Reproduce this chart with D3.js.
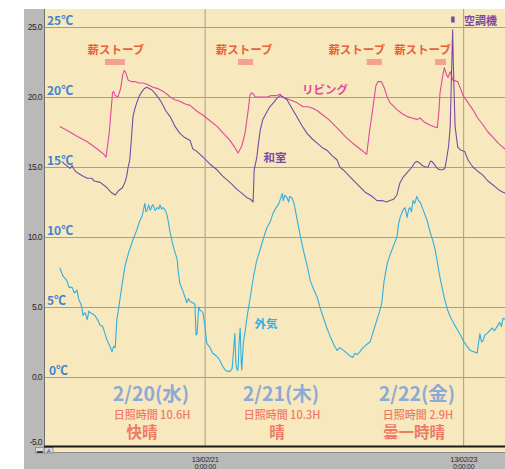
<!DOCTYPE html>
<html>
<head>
<meta charset="utf-8">
<script src="https://cdn.jsdelivr.net/npm/d3@7"></script>
<style>
  body { margin: 0; background: #fff; }
  svg { display: block; }
</style>
</head>
<body>
<svg id="chart" width="505" height="469"></svg>
<script>
// Room and outdoor temperatures, 2013-02-20 .. 2013-02-23.
// Each point is [hours since 2013-02-20 00:00, °C].
const livingData = [
  [-2.9,17.9],[-1.5,17.6],[0.3,17.2],[2.2,16.8],[4.0,16.3],[5.3,15.9],[5.7,15.7],[6.3,17.5],[6.9,20.3],
  [7.1,20.4],[7.4,20.1],[7.9,20.0],[8.4,20.6],[8.8,21.6],[9.1,21.9],[9.4,21.7],[9.8,21.2],[10.4,21.1],
  [11.0,21.1],[11.8,21.0],[12.6,21.0],[13.4,20.9],[14.4,20.7],[15.3,20.6],[16.3,20.4],[17.0,20.2],
  [17.6,20.0],[18.5,19.8],[19.4,19.7],[20.4,19.5],[21.3,19.4],[22.5,19.0],[23.7,18.7],[25.0,18.3],
  [26.3,17.9],[27.5,17.4],[28.7,16.9],[29.6,16.4],[30.2,16.0],[30.9,16.5],[31.5,17.4],[32.1,19.1],
  [32.4,20.1],[32.7,20.3],[33.1,20.2],[33.4,20.0],[34.5,20.0],[35.6,20.0],[36.4,20.1],[37.4,20.1],
  [38.0,20.2],[38.4,20.0],[39.2,19.9],[39.8,19.8],[40.5,19.7],[41.1,19.6],[42.3,19.3],[43.2,19.3],
  [44.1,19.2],[45.0,19.0],[46.0,18.7],[47.0,18.4],[47.8,18.1],[49.1,17.6],[50.3,17.1],[51.5,16.7],
  [52.8,16.3],[54.1,15.9],[54.6,17.5],[55.2,19.1],[55.8,20.8],[56.2,21.1],[56.8,21.1],[57.4,20.6],
  [58.0,19.9],[58.4,19.6],[59.7,19.1],[60.7,18.8],[61.6,18.6],[62.5,18.5],[63.4,18.4],[64.0,18.5],
  [64.8,18.2],[65.8,18.0],[66.5,17.9],[67.2,17.8],[67.5,19.0],[67.7,20.3],[68.2,21.5],[68.5,22.1],
  [68.9,21.6],[69.2,21.4],[69.6,21.8],[70.1,21.2],[71.0,21.1],[71.5,20.6],[72.0,20.1],[72.9,19.6],
  [73.8,19.1],[74.7,18.5],[75.7,18.0],[76.6,17.5],[77.6,17.1],[78.5,16.7],[79.4,16.4],[80.0,16.2]
];

const washitsuData = [
  [-2.5,15.4],[-2.0,15.2],[-1.6,15.1],[-1.0,14.9],[-0.6,15.1],[-0.2,14.8],[0.3,14.6],[1.2,14.4],
  [2.2,14.2],[3.0,14.2],[3.5,14.0],[4.6,13.9],[5.3,13.7],[5.9,13.5],[6.6,13.2],[7.4,13.0],[8.0,13.3],
  [8.7,13.5],[9.2,13.9],[9.5,14.3],[9.8,15.0],[10.1,15.5],[10.4,17.0],[10.7,18.6],[11.0,19.1],
  [11.4,19.6],[11.9,20.1],[12.4,20.4],[12.8,20.6],[13.3,20.7],[13.7,20.6],[14.2,20.5],[14.9,20.2],
  [15.7,19.8],[16.3,19.4],[16.8,19.0],[17.6,18.6],[18.5,17.9],[19.4,17.4],[20.3,17.1],[21.3,16.9],
  [21.8,16.3],[22.6,16.1],[23.7,15.7],[25.0,15.2],[26.3,14.8],[27.2,14.4],[28.1,14.1],[29.0,13.8],
  [30.0,13.4],[31.0,13.1],[31.9,12.8],[32.5,12.7],[33.0,12.5],[33.2,14.8],[33.7,15.7],[33.9,16.4],
  [34.3,17.6],[34.8,18.4],[35.5,18.9],[36.1,19.3],[36.8,19.6],[37.4,19.9],[38.0,20.1],[38.6,20.0],
  [39.3,19.8],[40.2,19.2],[41.1,18.6],[42.0,18.0],[43.0,17.4],[44.0,17.0],[44.9,16.7],[45.8,16.4],
  [46.7,16.2],[47.7,15.8],[48.6,15.5],[49.1,15.0],[50.0,14.7],[51.0,14.3],[52.0,13.9],[52.8,13.6],
  [53.8,13.2],[54.7,13.0],[55.4,12.8],[56.0,12.6],[57.0,12.6],[57.7,12.5],[58.4,12.6],[59.1,12.7],
  [59.7,13.0],[60.0,13.5],[60.3,13.9],[60.9,14.3],[61.6,14.6],[62.5,15.0],[63.0,15.3],[63.4,15.4],
  [63.9,15.3],[64.4,15.1],[65.0,15.0],[65.5,15.0],[65.9,15.4],[66.2,15.4],[66.6,15.2],[67.2,14.9],
  [67.7,14.8],[68.1,14.8],[68.6,14.9],[68.9,15.5],[69.3,16.5],[69.6,17.9],[69.9,22.6],[70.05,24.8],
  [70.2,22.0],[70.5,17.9],[71.0,16.4],[71.6,16.2],[72.3,16.1],[72.9,15.5],[73.8,15.0],[74.7,14.7],
  [75.7,14.4],[76.6,14.0],[77.6,13.7],[78.5,13.4],[79.4,13.2],[80.0,13.1]
];

const outdoorData = [
  [-2.9,7.8],[-2.3,7.2],[-1.6,6.9],[-1.2,6.4],[-0.6,6.4],[-0.2,6.0],[0.3,6.2],[0.6,5.6],[0.9,5.3],
  [1.2,5.0],[1.4,4.4],[1.8,4.6],[2.2,4.1],[2.5,4.7],[2.7,4.6],[3.2,4.5],[3.6,4.4],[4.1,4.1],[4.6,3.7],
  [5.1,3.6],[5.5,3.1],[5.9,2.6],[6.3,2.3],[6.8,1.8],[7.1,2.2],[7.4,2.1],[7.7,4.1],[8.1,5.1],[8.6,6.4],
  [9.2,7.9],[9.9,8.9],[10.7,9.8],[11.3,10.4],[12.0,11.2],[12.4,11.5],[12.9,12.4],[13.1,11.8],
  [13.3,11.9],[13.6,12.3],[13.9,11.9],[14.2,12.2],[14.4,12.3],[14.8,11.9],[15.2,12.1],[15.5,12.0],
  [15.7,12.3],[16.0,12.0],[16.3,12.1],[16.7,11.9],[17.0,11.6],[17.3,11.0],[17.6,10.3],[18.2,9.3],
  [18.9,8.4],[19.1,7.5],[19.4,6.7],[20.0,6.1],[20.7,5.3],[21.0,5.6],[21.3,5.4],[21.8,5.3],[22.2,5.2],
  [22.4,3.0],[22.6,3.1],[22.9,5.0],[23.1,4.8],[23.7,4.6],[24.0,3.8],[24.4,2.4],[25.0,2.1],[25.5,1.7],
  [26.2,1.5],[26.8,1.2],[27.3,0.8],[27.8,0.5],[28.3,0.4],[28.7,0.4],[29.1,0.6],[29.4,2.0],[29.6,3.1],
  [29.8,1.0],[30.0,0.5],[30.2,0.5],[30.4,2.5],[30.6,3.5],[30.8,1.0],[30.9,0.5],[31.2,2.5],[31.5,3.2],
  [32.0,4.6],[32.4,5.5],[33.0,7.0],[33.6,8.2],[34.3,9.1],[35.0,10.0],[35.6,10.7],[36.2,11.1],
  [36.7,11.7],[37.3,12.1],[37.8,12.4],[38.4,13.1],[38.6,12.6],[38.9,13.0],[39.3,12.8],[39.6,12.5],
  [39.8,12.9],[40.2,12.8],[40.6,12.4],[41.1,11.4],[41.7,10.2],[42.3,9.1],[43.0,8.0],[43.6,6.9],
  [44.2,6.3],[44.9,5.7],[45.4,5.0],[46.0,4.3],[46.7,3.5],[47.3,2.9],[48.0,2.3],[48.6,1.9],[49.1,2.1],
  [49.8,1.9],[50.4,1.7],[51.0,1.5],[51.5,1.4],[51.9,1.7],[52.3,1.6],[52.8,1.8],[53.4,2.1],[54.0,2.3],
  [54.7,2.5],[55.2,3.1],[55.6,3.6],[56.0,4.1],[56.5,4.7],[56.9,5.3],[57.3,6.8],[57.9,8.1],[58.4,8.7],
  [59.0,9.3],[59.3,9.6],[59.7,10.0],[60.0,10.9],[60.3,11.4],[60.8,11.9],[61.2,12.1],[61.6,11.4],
  [61.9,12.0],[62.1,12.1],[62.4,11.8],[62.7,12.6],[63.0,12.4],[63.4,12.9],[63.7,12.6],[64.0,12.5],
  [64.6,11.9],[65.3,11.2],[65.9,10.3],[66.4,9.7],[66.8,9.1],[67.3,8.0],[67.7,7.1],[68.2,6.2],
  [68.6,5.5],[69.1,4.8],[69.6,4.3],[70.3,3.8],[70.9,3.4],[71.5,3.0],[72.0,2.6],[72.7,2.2],[73.3,1.9],
  [74.0,1.8],[74.6,1.7],[75.1,3.1],[75.4,2.5],[75.7,2.6],[76.0,3.0],[76.4,3.1],[76.9,3.3],[77.4,3.5],
  [77.8,3.3],[78.3,3.6],[78.8,3.9],[79.1,3.6],[79.4,4.2],[80.0,4.1]
];

// Wood-stove firing periods [start, end] in hours, and the air-conditioner switch-on hour.
const stoveRuns = [[5.5, 9.2], [30.2, 33.0], [54.1, 56.9], [66.8, 68.8]];
const stoveLabel = "薪ストーブ";
const airconOn = 70.05;
const airconLabel = "空調機";

// Axis ticks
const yTicks = [-5, 0, 5, 10, 15, 20, 25];
const xTicks = ["2013-02-21T00:00:00Z", "2013-02-23T00:00:00Z"];

// Daily notes
const dayNames = ["2/20(水)", "2/21(木)", "2/22(金)"];
const sunshineHours = [10.6, 10.3, 2.9];
const weatherNotes = ["快晴", "晴", "曇一時晴"];

// Series names
const seriesNames = { living: "リビング", washitsu: "和室", outdoor: "外気" };

// ---------------------------------------------------------------------------
const W = 505, H = 469;
const plot = { left: 45, right: 505, top: 9, bottom: 446 };
const colors = {
  bg: "#f7e8bd", frame: "#b9b9b9", grid: "#a39f90",
  living: "#e3489c", washitsu: "#7b4aa6", outdoor: "#2fb0e2",
  stove: "#ea6138", stoveBar: "#f5a190", degree: "#3f84d2",
  day: "#8daad6", sun: "#f07a68"
};
const jp = "'Noto Sans CJK JP', 'Noto Sans', sans-serif";
const latin = "'Liberation Sans', Arial, sans-serif";

const base = Date.UTC(2013, 1, 20);
const t = h => new Date(base + h * 3600e3);

const x = d3.scaleUtc().domain([t(-5.64), t(79.77)]).range([plot.left, plot.right]);
const y = d3.scaleLinear().domain([-5, 25]).range([447, 27]);

const svg = d3.select("#chart");

// frame and plotting area
svg.append("rect").attr("x", 24).attr("y", plot.top).attr("width", W - 24).attr("height", H - plot.top)
  .attr("fill", colors.frame);
svg.append("rect").attr("x", plot.left).attr("y", plot.top)
  .attr("width", plot.right - plot.left).attr("height", plot.bottom - plot.top)
  .attr("fill", colors.bg);
// scroll strip under the plot
svg.append("rect").attr("x", 53).attr("y", 447).attr("width", W - 53).attr("height", 5.5)
  .attr("fill", colors.bg);
svg.append("line").attr("x1", 35).attr("x2", W).attr("y1", 452.5).attr("y2", 452.5)
  .attr("stroke", "#8a8a8a").attr("stroke-width", 1);

// small toolbar buttons
const btn = svg.append("g");
[[35, "▬"], [44, "A"]].forEach(([bx, s]) => {
  btn.append("rect").attr("x", bx + 0.5).attr("y", 447.5).attr("width", 8.5).attr("height", 5.5)
    .attr("fill", "#d9d9d9").attr("stroke", "#8a8a8a").attr("stroke-width", 0.8);
  btn.append("text").attr("x", bx + 4.75).attr("y", 452.6).attr("text-anchor", "middle")
    .attr("font-family", latin).attr("font-size", 6).attr("fill", "#333").text(s);
});

// horizontal grid
const gy = svg.append("g").attr("transform", `translate(${plot.left},0)`)
  .call(d3.axisRight(y).tickValues(yTicks.filter(d => d > -5)).tickSize(plot.right - plot.left).tickFormat(""));
gy.select(".domain").remove();
gy.selectAll(".tick line").attr("stroke", colors.grid).attr("stroke-width", 1);

// vertical grid
const gx = svg.append("g").attr("transform", `translate(0,${plot.bottom})`)
  .call(d3.axisBottom(x).tickValues(xTicks.map(d => new Date(d))).tickSize(-(plot.bottom - plot.top)).tickFormat(""));
gx.select(".domain").remove();
gx.selectAll(".tick line").attr("stroke", colors.grid).attr("stroke-width", 1);

// left edge of the plot
svg.append("line").attr("x1", plot.left - 0.5).attr("x2", plot.left - 0.5)
  .attr("y1", plot.top).attr("y2", plot.bottom).attr("stroke", "#6f6f6f").attr("stroke-width", 1);

// y-axis numbers
const ay = svg.append("g").attr("transform", `translate(42,0)`)
  .call(d3.axisLeft(y).tickValues(yTicks).tickSize(0).tickPadding(0).tickFormat(d => d.toFixed(1)));
ay.select(".domain").remove();
ay.selectAll("text").attr("font-family", latin).attr("font-size", 8.5)
  .attr("letter-spacing", -0.6).attr("fill", "#2a2a2a")
  .attr("dy", d => d === -5 ? "-0.3em" : "0.32em");

// x-axis date labels (date on the first line, time on the second)
const ax = svg.append("g").attr("transform", `translate(0,453)`)
  .call(d3.axisBottom(x).tickValues(xTicks.map(d => new Date(d))).tickSize(0).tickFormat(""));
ax.select(".domain").remove();
ax.selectAll(".tick").each(function (d) {
  const g = d3.select(this);
  g.append("text").attr("y", 9).attr("text-anchor", "middle").attr("font-family", latin)
    .attr("font-size", 7.5).attr("letter-spacing", -0.3).attr("fill", "#2a2a2a")
    .text(d3.utcFormat("%y/%m/%d")(d));
  g.append("text").attr("y", 15.8).attr("text-anchor", "middle").attr("font-family", latin)
    .attr("font-size", 7).attr("letter-spacing", -0.3).attr("fill", "#2a2a2a")
    .text(d3.utcFormat("%-H:%M:%S")(d));
});

// °C labels on the grid
svg.append("g").selectAll("text").data(yTicks.filter(d => d >= 0)).join("text")
  .attr("x", d => d === 0 ? 49 : 47).attr("y", d => y(d) - 2)
  .attr("font-family", jp).attr("font-weight", 700).attr("font-size", 12)
  .attr("fill", colors.degree).text(d => `${d}℃`);

// clip for series
svg.append("clipPath").attr("id", "plotClip").append("rect")
  .attr("x", plot.left).attr("y", plot.top).attr("width", plot.right - plot.left)
  .attr("height", plot.bottom - plot.top);

const line = d3.line().x(d => x(t(d[0]))).y(d => y(d[1]));
const lines = svg.append("g").attr("clip-path", "url(#plotClip)");
[[livingData, colors.living], [washitsuData, colors.washitsu], [outdoorData, colors.outdoor]]
  .forEach(([data, c]) => {
    lines.append("path").datum(data).attr("d", line).attr("fill", "none")
      .attr("stroke", c).attr("stroke-width", 1.1).attr("stroke-linejoin", "round");
  });

// stove firing bars + labels
const stoveLabelShift = [1, -1.5, -17.5, -18];
const sg = svg.append("g");
stoveRuns.forEach(([a, b], i) => {
  const x0 = x(t(a)), x1 = x(t(b));
  sg.append("rect").attr("x", x0).attr("y", 59).attr("width", x1 - x0).attr("height", 6)
    .attr("fill", colors.stoveBar);
  sg.append("text").attr("x", (x0 + x1) / 2 + stoveLabelShift[i]).attr("y", 54)
    .attr("text-anchor", "middle").attr("font-family", jp).attr("font-weight", 700)
    .attr("font-size", 11.5).attr("fill", colors.stove).text(stoveLabel);
});

// air-conditioner marker
svg.append("rect").attr("x", x(t(airconOn)) - 1.5).attr("y", 16.5).attr("width", 3.5).attr("height", 6)
  .attr("fill", colors.washitsu);
svg.append("text").attr("x", 464).attr("y", 24.5).attr("font-family", jp).attr("font-weight", 700)
  .attr("font-size", 11).attr("fill", colors.washitsu).text(airconLabel);

// series name labels
const nameLabels = [
  { text: seriesNames.living, x: 325, y: 93.5, c: colors.living },
  { text: seriesNames.washitsu, x: 275, y: 162, c: colors.washitsu },
  { text: seriesNames.outdoor, x: 266, y: 328, c: colors.outdoor }
];
svg.append("g").selectAll("text").data(nameLabels).join("text")
  .attr("x", d => d.x).attr("y", d => d.y).attr("text-anchor", "middle")
  .attr("font-family", jp).attr("font-weight", 700).attr("font-size", 11.5)
  .attr("fill", d => d.c).text(d => d.text);

// daily notes
const dayX = [151, 281, 417];
const weatherX = [142, 277, 414];
const notes = svg.append("g").attr("font-family", jp).attr("text-anchor", "middle");
dayNames.forEach((name, i) => {
  notes.append("text").attr("x", dayX[i]).attr("y", 401).attr("font-size", 19.5).attr("font-weight", 700)
    .attr("fill", colors.day).text(name);
  notes.append("text").attr("x", dayX[i] + 1).attr("y", 418.5).attr("font-size", 11).attr("font-weight", 500)
    .attr("fill", colors.sun).text(`日照時間 ${sunshineHours[i]}H`);
  notes.append("text").attr("x", weatherX[i]).attr("y", 438).attr("font-size", 15.5).attr("font-weight", 700)
    .attr("fill", colors.sun).text(weatherNotes[i]);
});

// bottom edge of the plot
svg.append("line").attr("x1", 44).attr("x2", W).attr("y1", 446.5).attr("y2", 446.5)
  .attr("stroke", "#1a1a1a").attr("stroke-width", 1.8);
</script>
</body>
</html>
